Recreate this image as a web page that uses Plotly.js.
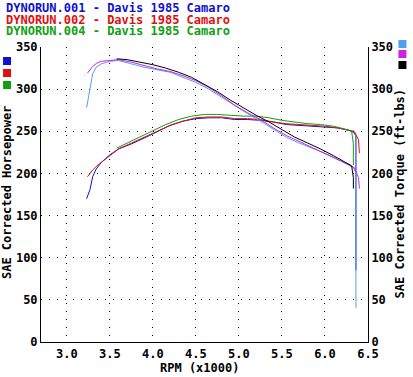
<!DOCTYPE html>
<html>
<head>
<meta charset="utf-8">
<script src="https://cdn.plot.ly/plotly-3.0.1.min.js"></script>
<style>html,body{margin:0;padding:0;background:#fff;}#chart{width:413px;height:377px;}</style>
</head>
<body>
<div id="chart"></div>
<script>
// Run 001 (HP blue, torque light blue)
var rpm001 = [3.23, 3.27, 3.30, 3.34, 3.40, 3.50, 3.60, 3.75, 3.90, 4.05, 4.20, 4.35, 4.50, 4.65, 4.80, 4.95, 5.10, 5.25, 5.40, 5.55, 5.70, 5.85, 6.00, 6.15, 6.28, 6.33, 6.36, 6.36, 6.36];
var hp001  = [170, 181, 196, 205, 213, 222, 229, 235, 242, 250, 257, 262, 265, 266, 266, 264, 264, 263, 261, 258, 257, 256, 255, 254, 251, 249, 245, 150, 85];
var tq001  = [278, 300, 318, 326, 330, 333, 334, 330, 326, 323, 320, 314, 308, 300, 290, 280, 271, 262, 253, 243, 236, 230, 224, 217, 210, 207, 200, 120, 40];
// Run 002 (HP red, torque magenta)
var rpm002 = [3.24, 3.30, 3.35, 3.40, 3.50, 3.60, 3.75, 3.90, 4.05, 4.20, 4.35, 4.50, 4.65, 4.80, 4.95, 5.10, 5.25, 5.40, 5.55, 5.70, 5.85, 6.00, 6.15, 6.28, 6.34, 6.39, 6.40];
var hp002  = [196, 204, 209, 213, 221, 229, 236, 243, 250, 257, 262, 266, 267, 267, 265, 265, 264, 261, 259, 258, 257, 256, 254, 251, 250, 240, 224];
var tq002  = [319, 327, 331, 333, 334, 335, 332, 328, 324, 321, 316, 310, 302, 292, 281, 272, 264, 254, 245, 238, 231, 224, 217, 210, 207, 195, 182];
// Run 004 (HP green, torque black)
var rpm004 = [3.58, 3.70, 3.85, 4.00, 4.15, 4.30, 4.45, 4.60, 4.75, 4.90, 5.05, 5.20, 5.35, 5.50, 5.65, 5.80, 5.95, 6.10, 6.22, 6.31, 6.33, 6.33];
var hp004  = [230, 236, 243, 251, 258, 264, 268, 270, 270, 269, 268, 268, 266, 263, 261, 259, 258, 256, 253, 250, 235, 210];
var tq004  = [336, 335, 332, 329, 325, 320, 314, 306, 297, 287, 278, 269, 261, 252, 243, 236, 229, 221, 214, 209, 195, 182];

var runTitles = ["DYNORUN.001 - Davis 1985 Camaro", "DYNORUN.002 - Davis 1985 Camaro", "DYNORUN.004 - Davis 1985 Camaro"];
var xTickVals = [3.0, 3.5, 4.0, 4.5, 5.0, 5.5, 6.0, 6.5];
var xTickText = ["3.0", "3.5", "4.0", "4.5", "5.0", "5.5", "6.0", "6.5"];
var yTickVals = [0, 50, 100, 150, 200, 250, 300, 350];

var hpColors = ["#1010d0", "#e01010", "#10a010"];
var tqColors = ["#50a0f0", "#d020e0", "#000000"];

var FONT = {family: "DejaVu Sans Mono", size: 12, color: "#000", weight: "bold"};

function tr(x, y, color, axis, name) {
  return {x: x, y: y, type: "scatter", mode: "lines", yaxis: axis, name: name,
          line: {color: color, width: 1}, hoverinfo: "skip"};
}
var data = [
  tr(rpm001, tq001, tqColors[0], "y2", "Torque 001"),
  tr(rpm002, tq002, tqColors[1], "y2", "Torque 002"),
  tr(rpm004, tq004, tqColors[2], "y2", "Torque 004"),
  tr(rpm001, hp001, hpColors[0], "y", "HP 001"),
  tr(rpm002, hp002, hpColors[1], "y", "HP 002"),
  tr(rpm004, hp004, hpColors[2], "y", "HP 004")
];

var L = 41, R = 368.5, T = 47, B = 342;
function px(x) { return (x - L) / (R - L); }
function py(y) { return (B - y) / (B - T); }

var annotations = [];
for (var i = 0; i < 3; i++) {
  annotations.push({text: runTitles[i], xref: "paper", yref: "paper", x: px(5), y: py(8 + 11.5 * i),
    xanchor: "left", yanchor: "middle", showarrow: false, borderpad: 0,
    font: {family: "DejaVu Sans Mono", size: 12, color: hpColors[i], weight: "bold"}});
}
annotations.push({text: "SAE Corrected Horsepower", xref: "paper", yref: "paper", x: px(7), y: py(193),
  xanchor: "center", yanchor: "middle", textangle: -90, showarrow: false, font: FONT});
annotations.push({text: "SAE Corrected Torque (ft-lbs)", xref: "paper", yref: "paper", x: px(401), y: py(193),
  xanchor: "center", yanchor: "middle", textangle: -90, showarrow: false, font: FONT});
annotations.push({text: "RPM (x1000)", xref: "paper", yref: "paper", x: px(200), y: py(368),
  xanchor: "center", yanchor: "middle", showarrow: false, borderpad: 0, font: FONT});

var shapes = [];
var leftSq = [[57, 65], [69, 77], [81, 89]];
for (var j = 0; j < 3; j++) {
  shapes.push({type: "rect", xref: "paper", yref: "paper", x0: px(3), x1: px(11), y0: py(leftSq[j][1]), y1: py(leftSq[j][0]),
    fillcolor: hpColors[j], line: {width: 0}});
}
var rightSq = [[40, 48], [50, 58], [61, 69]];
for (var k = 0; k < 3; k++) {
  shapes.push({type: "rect", xref: "paper", yref: "paper", x0: px(399), x1: px(407), y0: py(rightSq[k][1]), y1: py(rightSq[k][0]),
    fillcolor: tqColors[k], line: {width: 0}});
}

var layout = {
  width: 413, height: 377,
  margin: {l: L, r: 413 - R, t: T, b: 377 - B, pad: 0},
  paper_bgcolor: "#ffffff", plot_bgcolor: "#ffffff",
  showlegend: false,
  font: FONT,
  xaxis: {range: [2.70, 6.5], tickvals: xTickVals, ticktext: xTickText, showline: true, linecolor: "#000", linewidth: 1,
    showgrid: true, gridcolor: "#000", gridwidth: 1, griddash: "1px,7px", zeroline: false, ticks: "", tickfont: FONT,
    ticklabelstandoff: 1, automargin: false, fixedrange: true},
  yaxis: {range: [0, 350], tickvals: yTickVals, showline: true, linecolor: "#000", linewidth: 1,
    showgrid: true, gridcolor: "#000", gridwidth: 1, griddash: "1px,7px", zeroline: false, ticks: "", tickfont: FONT, automargin: false, fixedrange: true},
  yaxis2: {range: [0, 350], tickvals: yTickVals, overlaying: "y", side: "right", showline: true, linecolor: "#000", linewidth: 1,
    showgrid: false, zeroline: false, ticks: "", tickfont: FONT, automargin: false, fixedrange: true},
  annotations: annotations,
  shapes: shapes
};

Plotly.newPlot("chart", data, layout, {displayModeBar: false, staticPlot: true});
</script>
</body>
</html>
